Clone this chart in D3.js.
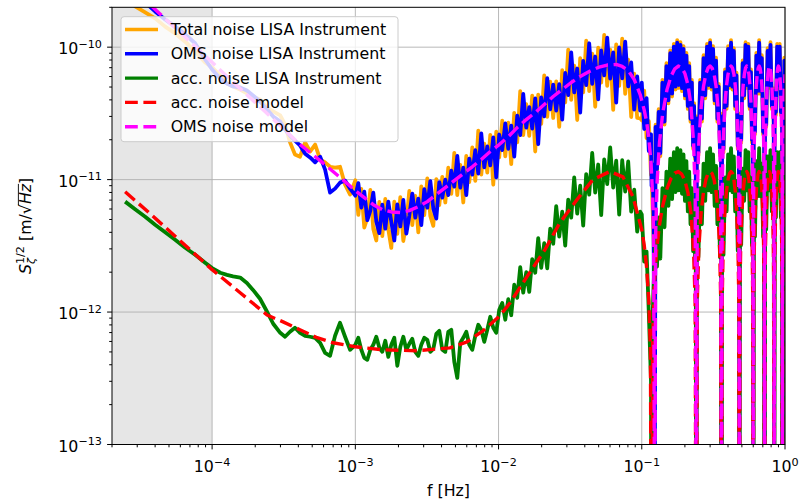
<!DOCTYPE html>
<html><head><meta charset="utf-8">
<script src="https://cdn.jsdelivr.net/npm/d3@7/dist/d3.min.js"></script>
<style>
body{margin:0;background:#fff}
svg{display:block}
text{font-family:"DejaVu Sans",sans-serif;fill:#000}
</style></head>
<body><svg id="chart" width="800" height="502"></svg>
<script>
// ---------------- data ----------------
const xDomain = [2e-5, 1];
const yDomain = [1e-13, 2e-10];
const shadedBand = [2e-5, 1e-4];
const xTickValues = [1e-4, 1e-3, 1e-2, 1e-1, 1];
const xTickExps = ["\u22124", "\u22123", "\u22122", "\u22121", "0"];
const yTickValues = [1e-13, 1e-12, 1e-11, 1e-10];
const yTickExps = ["\u221213", "\u221212", "\u221211", "\u221210"];
const legendLabels = ["Total noise LISA Instrument", "OMS noise LISA Instrument", "acc. noise LISA Instrument", "acc. noise model", "OMS noise model"];

// frequencies of the instrument (noisy) series
const noiseFreq = [
 2.47e-5,2.90e-5,3.41e-5,4.00e-5,4.70e-5,5.52e-5,6.49e-5,7.61e-5,8.94e-5,1.00e-4,
 1.14e-4,1.27e-4,1.40e-4,1.57e-4,1.75e-4,1.93e-4,2.16e-4,2.42e-4,2.67e-4,2.99e-4,
 3.23e-4,3.50e-4,3.79e-4,4.11e-4,4.46e-4,4.83e-4,5.24e-4,5.68e-4,6.15e-4,6.66e-4,
 7.22e-4,7.82e-4,8.48e-4,9.19e-4,
 1.000e-3,1.049e-3,1.101e-3,1.155e-3,1.213e-3,1.273e-3,1.335e-3,1.401e-3,1.471e-3,1.543e-3,
 1.619e-3,1.699e-3,1.783e-3,1.871e-3,1.964e-3,2.061e-3,2.163e-3,2.270e-3,2.382e-3,2.499e-3,
 2.623e-3,2.752e-3,2.888e-3,3.031e-3,3.181e-3,3.338e-3,3.503e-3,3.676e-3,3.857e-3,4.048e-3,
 4.248e-3,4.457e-3,4.678e-3,4.909e-3,5.151e-3,5.406e-3,5.673e-3,5.953e-3,6.247e-3,6.555e-3,
 6.879e-3,7.219e-3,7.576e-3,7.950e-3,8.342e-3,8.754e-3,9.187e-3,9.637e-3,1.011e-2,1.061e-2,
 1.114e-2,1.169e-2,1.226e-2,1.287e-2,1.350e-2,1.417e-2,1.487e-2,1.561e-2,1.638e-2,1.718e-2,
 1.803e-2,1.892e-2,1.986e-2,2.084e-2,2.187e-2,2.295e-2,2.408e-2,2.527e-2,2.652e-2,2.783e-2,
 2.921e-2,3.065e-2,3.216e-2,3.375e-2,3.542e-2,3.716e-2,3.900e-2,4.092e-2,4.295e-2,4.507e-2,
 4.730e-2,4.963e-2,5.209e-2,5.466e-2,5.736e-2,6.019e-2,6.317e-2,6.629e-2,6.956e-2,7.300e-2,
 7.661e-2,8.039e-2,8.436e-2,8.853e-2,9.288e-2,9.746e-2,
 0.100,0.104,0.108,0.112,0.116,0.117,0.119,0.121,0.123,
 0.1248,0.1277,0.1312,0.1347,0.1394,0.1441,0.1487,0.1534,0.1581,0.1628,0.1675,0.1721,0.1768,0.1815,
 0.1862,0.1909,0.1955,0.2002,0.2049,0.2096,0.2143,0.2189,0.2236,0.2283,0.2318,0.2353,0.2382,0.24,
 0.2424,0.2484,0.2556,0.2628,0.27,0.2772,0.2856,0.2928,0.30,0.3072,0.3144,0.3228,0.33,0.3372,0.3444,0.3516,0.3576,0.36,
 0.3636,0.372,0.3816,0.3912,0.4008,0.4104,0.42,0.4296,0.4392,0.4488,0.4584,0.468,0.4764,0.48,
 0.4836,0.4944,0.5064,0.5184,0.5304,0.5424,0.5544,0.5664,0.5784,0.588,0.5964,0.60,
 0.6048,0.6168,0.6312,0.6456,0.66,0.6744,0.6888,0.7032,0.7152,0.72,
 0.7248,0.7392,0.756,0.774,0.792,0.81,0.8256,0.8352,0.84,
 0.846,0.864,0.882,0.90,0.918,0.936,0.954,0.96,
 0.966,0.978,0.99,1.0
];

const totalNoise = [
 3.54e-10,2.03e-10,1.83e-10,1.65e-10,1.43e-10,1.27e-10,1.10e-10,9.27e-11,7.66e-11,7.03e-11,
 6.11e-11,5.32e-11,5.05e-11,4.79e-11,4.47e-11,4.24e-11,4.03e-11,3.50e-11,3.27e-11,3.05e-11,
 2.61e-11,1.91e-11,1.55e-11,1.49e-11,1.91e-11,1.63e-11,1.84e-11,1.42e-11,1.35e-11,1.25e-11,
 1.23e-11,1.25e-11,9.16e-12,7.71e-12,
 9.88e-12,5.41e-12,8.52e-12,4.35e-12,5.13e-12,8.37e-12,4.24e-12,3.47e-12,6.79e-12,3.75e-12,
 7.16e-12,4.22e-12,3.05e-12,6.81e-12,3.90e-12,7.37e-12,3.44e-12,4.71e-12,8.23e-12,4.54e-12,
 7.54e-12,3.99e-12,8.89e-12,5.40e-12,1.02e-11,5.32e-12,4.47e-12,1.01e-11,6.43e-12,
 1.05e-11,6.72e-12,1.23e-11,7.80e-12,1.59e-11,7.65e-12,1.29e-11,6.72e-12,1.51e-11,9.59e-12,
 1.75e-11,9.77e-12,2.34e-11,1.09e-11,1.87e-11,1.13e-11,2.18e-11,9.15e-12,2.30e-11,1.47e-11,
 2.79e-11,1.50e-11,2.69e-11,1.31e-11,3.19e-11,1.91e-11,4.65e-11,2.17e-11,3.71e-11,2.14e-11,
 4.31e-11,1.63e-11,4.38e-11,2.64e-11,6.13e-11,2.98e-11,5.48e-11,2.92e-11,5.52e-11,2.50e-11,
 6.70e-11,3.83e-11,9.58e-11,4.00e-11,7.25e-11,2.82e-11,8.26e-11,4.56e-11,1.12e-10,4.65e-11,
 8.93e-11,3.55e-11,9.92e-11,5.39e-11,1.24e-10,5.10e-11,9.58e-11,3.36e-11,1.05e-10,5.11e-11,
 1.16e-10,4.44e-11,8.04e-11,2.97e-11,6.31e-11,2.92e-11,2.9e-11,
 2.8e-11,4.69e-11,2.06e-11,2.77e-11,1.08e-11,1.15e-11,6.1e-12,3.5e-12,1.5e-12,
 2.6e-11,1.14e-11,3.4e-11,1.5e-11,5.67e-11,2.6e-11,7.56e-11,3.76e-11,9.45e-11,4.24e-11,1.06e-10,4.79e-11,1.13e-10,4.92e-11,
 1.09e-10,4.66e-11,1.02e-10,4.1e-11,9.07e-11,3.42e-11,7.56e-11,2.74e-11,5.67e-11,1.71e-11,3.78e-11,1.43e-11,2.6e-11,1e-14,
 3.0e-11,1.52e-11,5.67e-11,2.74e-11,8.69e-11,4.1e-11,1.06e-10,4.92e-11,1.13e-10,4.79e-11,1.02e-10,3.76e-11,8.32e-11,2.74e-11,5.29e-11,1.52e-11,3.0e-11,1e-14,
 3.15e-11,1.6e-11,6.8e-11,3.42e-11,1.02e-10,4.92e-11,1.13e-10,4.79e-11,9.83e-11,3.42e-11,6.43e-11,1.7e-11,3.15e-11,1e-14,
 3.15e-11,1.9e-11,7.94e-11,4.1e-11,1.09e-10,4.92e-11,1.06e-10,3.42e-11,6.8e-11,1.9e-11,3.15e-11,1e-14,
 3.35e-11,2.2e-11,9.07e-11,4.45e-11,1.13e-10,4.45e-11,8.69e-11,2.2e-11,3.35e-11,1e-14,
 3.35e-11,2.5e-11,9.83e-11,4.92e-11,1.09e-10,3.42e-11,4.91e-11,2.5e-11,1e-14,
 3.55e-11,3.08e-11,1.06e-10,4.92e-11,1.06e-10,3.08e-11,3.55e-11,1e-14,
 3.55e-11,2.4e-11,8.32e-11,4.24e-11
];

const omsNoise = [
 3.25e-10,2.64e-10,2.18e-10,1.86e-10,1.62e-10,1.43e-10,1.25e-10,1.07e-10,8.07e-11,6.78e-11,
 5.80e-11,5.32e-11,5.05e-11,4.96e-11,4.71e-11,4.32e-11,3.89e-11,3.38e-11,2.99e-11,2.74e-11,
 2.39e-11,2.15e-11,1.97e-11,1.81e-11,1.57e-11,1.47e-11,1.35e-11,1.49e-11,1.19e-11,7.98e-12,
 8.55e-12,9.49e-12,9.83e-12,8.55e-12,
 7.57e-12,9.41e-12,6.15e-12,8.11e-12,4.94e-12,5.83e-12,7.97e-12,4.82e-12,3.94e-12,6.47e-12,
 4.26e-12,6.82e-12,4.79e-12,3.47e-12,6.49e-12,4.43e-12,7.02e-12,3.91e-12,5.35e-12,7.84e-12,
 5.16e-12,7.18e-12,4.53e-12,8.47e-12,6.14e-12,9.75e-12,6.04e-12,5.08e-12,9.58e-12,7.31e-12,
 1.00e-11,7.64e-12,1.17e-11,8.86e-12,1.51e-11,8.69e-12,1.23e-11,7.64e-12,1.44e-11,1.09e-11,
 1.67e-11,1.11e-11,2.23e-11,1.24e-11,1.78e-11,1.28e-11,2.08e-11,1.04e-11,2.19e-11,1.67e-11,
 2.66e-11,1.71e-11,2.56e-11,1.49e-11,3.04e-11,2.17e-11,4.43e-11,2.47e-11,3.53e-11,2.43e-11,
 4.10e-11,1.85e-11,4.17e-11,3.00e-11,5.84e-11,3.39e-11,5.22e-11,3.32e-11,5.26e-11,2.84e-11,
 6.38e-11,4.35e-11,9.12e-11,4.55e-11,6.90e-11,3.21e-11,7.87e-11,5.18e-11,1.07e-10,5.28e-11,
 8.50e-11,4.03e-11,9.45e-11,6.12e-11,1.18e-10,5.80e-11,9.12e-11,3.82e-11,9.96e-11,5.81e-11,
 1.10e-10,5.05e-11,7.66e-11,3.38e-11,6.01e-11,3.32e-11,
 5.4e-11,2.41e-11,4.13e-11,1.64e-11,2.2e-11,9.0e-12,1.3e-11,5.0e-12,1e-14,
 2.5e-11,1.2e-11,3.24e-11,1.58e-11,5.4e-11,2.74e-11,7.2e-11,3.96e-11,9.0e-11,4.46e-11,1.01e-10,5.04e-11,1.08e-10,5.18e-11,
 1.04e-10,4.9e-11,9.72e-11,4.32e-11,8.64e-11,3.6e-11,7.2e-11,2.88e-11,5.4e-11,1.8e-11,3.6e-11,1.5e-11,2.5e-11,1e-14,
 2.9e-11,1.6e-11,5.4e-11,2.88e-11,8.28e-11,4.32e-11,1.01e-10,5.18e-11,1.08e-10,5.04e-11,9.72e-11,3.96e-11,7.92e-11,2.88e-11,5.04e-11,1.6e-11,2.9e-11,1e-14,
 3.0e-11,1.7e-11,6.48e-11,3.6e-11,9.72e-11,5.18e-11,1.08e-10,5.04e-11,9.36e-11,3.6e-11,6.12e-11,1.8e-11,3.0e-11,1e-14,
 3.0e-11,2.0e-11,7.56e-11,4.32e-11,1.04e-10,5.18e-11,1.01e-10,3.6e-11,6.48e-11,2.0e-11,3.0e-11,1e-14,
 3.2e-11,2.3e-11,8.64e-11,4.68e-11,1.08e-10,4.68e-11,8.28e-11,2.3e-11,3.2e-11,1e-14,
 3.2e-11,2.6e-11,9.36e-11,5.18e-11,1.04e-10,3.6e-11,4.68e-11,2.6e-11,1e-14,
 3.4e-11,3.24e-11,1.01e-10,5.18e-11,1.01e-10,3.24e-11,3.4e-11,1e-14,
 3.4e-11,2.5e-11,7.92e-11,4.46e-11
];

const accNoise = [
 6.82e-12,5.97e-12,5.25e-12,4.57e-12,4.01e-12,3.52e-12,3.06e-12,2.71e-12,2.36e-12,2.15e-12,
 1.98e-12,1.91e-12,1.86e-12,1.82e-12,1.66e-12,1.47e-12,1.26e-12,1.005e-12,8.16e-13,6.97e-13,
 6.51e-13,7.10e-13,7.61e-13,6.97e-13,6.62e-13,6.51e-13,6.39e-13,5.86e-13,4.92e-13,4.67e-13,
 6.62e-13,8.30e-13,6.51e-13,5.19e-13,
 5.66e-13,6.39e-13,5.19e-13,4.51e-13,4.36e-13,5.19e-13,5.66e-13,6.51e-13,5.37e-13,5.01e-13,
 6.07e-13,4.59e-13,5.66e-13,6.39e-13,3.93e-13,5.47e-13,6.51e-13,5.19e-13,5.76e-13,6.28e-13,
 5.01e-13,4.67e-13,5.66e-13,6.39e-13,6.17e-13,5.01e-13,5.28e-13,6.85e-13,7.22e-13,5.19e-13,
 5.01e-13,7.10e-13,7.35e-13,4.21e-13,3.19e-13,5.86e-13,6.39e-13,7.10e-13,5.66e-13,5.19e-13,
 6.62e-13,8.02e-13,7.35e-13,5.96e-13,7.35e-13,9.21e-13,7.61e-13,6.97e-13,1.04e-12,
 1.17e-12,8.75e-13,1.25e-12,9.46e-13,1.61e-12,1.28e-12,2.18e-12,1.40e-12,2.00e-12,1.42e-12,
 2.51e-12,1.98e-12,3.61e-12,2.16e-12,3.31e-12,2.14e-12,4.26e-12,3.28e-12,6.30e-12,3.71e-12,
 5.73e-12,3.17e-12,7.06e-12,5.16e-12,1.04e-11,5.53e-12,9.01e-12,4.49e-12,1.10e-11,7.70e-12,
 1.59e-11,7.97e-12,1.30e-11,5.39e-12,1.42e-11,9.25e-12,1.75e-11,8.70e-12,1.39e-11,5.44e-12,
 1.40e-11,8.11e-12,1.37e-11,5.73e-12,8.40e-12,4.05e-12,5.73e-12,
 5.45e-12,2.4e-12,2.86e-12,9.8e-13,3.0e-13,1e-15,9.0e-13,1.6e-12,2.6e-12,
 4.0e-12,2.2e-12,5.18e-12,2.53e-12,8.63e-12,4.37e-12,1.15e-11,6.33e-12,1.44e-11,7.13e-12,1.61e-11,8.05e-12,1.73e-11,8.28e-12,
 1.67e-11,7.82e-12,1.55e-11,6.9e-12,1.38e-11,5.75e-12,1.15e-11,4.6e-12,8.63e-12,2.88e-12,5.8e-12,2.4e-12,4.0e-12,1e-15,
 4.6e-12,2.6e-12,8.63e-12,4.6e-12,1.32e-11,6.9e-12,1.61e-11,8.28e-12,1.73e-11,8.05e-12,1.55e-11,6.33e-12,1.27e-11,4.6e-12,8.05e-12,2.6e-12,4.6e-12,1e-15,
 4.8e-12,2.7e-12,1.04e-11,5.75e-12,1.55e-11,8.28e-12,1.73e-11,8.05e-12,1.5e-11,5.75e-12,9.78e-12,2.9e-12,4.8e-12,1e-15,
 4.8e-12,3.2e-12,1.21e-11,6.9e-12,1.67e-11,8.28e-12,1.61e-11,5.75e-12,1.04e-11,3.2e-12,4.8e-12,1e-15,
 5.1e-12,3.7e-12,1.38e-11,7.48e-12,1.73e-11,7.48e-12,1.32e-11,3.7e-12,5.1e-12,1e-15,
 5.1e-12,4.2e-12,1.5e-11,8.28e-12,1.67e-11,5.75e-12,7.48e-12,4.2e-12,1e-15,
 5.4e-12,5.18e-12,1.61e-11,8.28e-12,1.61e-11,5.18e-12,5.4e-12,1e-15,
 5.4e-12,4.0e-12,1.27e-11,7.13e-12
];

// acceleration noise model (red dashed)
const accModelFreq = [
 2.47e-5,3.69e-5,5.98e-5,1.0e-4,1.57e-4,2.42e-4,3.13e-4,4.1e-4,5.41e-4,6.98e-4,
 1.0e-3,1.56e-3,2.70e-3,4.58e-3,6.02e-3,7.79e-3,1.02e-2,1.20e-2,1.58e-2,2.11e-2,
 2.68e-2,3.53e-2,4.56e-2,5.98e-2,7.38e-2,8.67e-2,0.1,0.104,0.108,0.112,
 0.115,0.117,0.119,0.122,0.125,0.128,0.133,0.14,0.15,0.16,
 0.17,0.18,0.19,0.20,0.21,0.22,0.23,0.236,0.24,
 0.244,0.25,0.26,0.27,0.28,0.29,0.30,0.31,0.32,0.33,0.34,0.35,0.356,0.36,
 0.364,0.37,0.38,0.39,0.40,0.41,0.42,0.43,0.44,0.45,0.46,0.47,0.476,0.48,
 0.484,0.49,0.50,0.51,0.52,0.53,0.54,0.55,0.56,0.57,0.58,0.59,0.596,0.60,
 0.604,0.61,0.62,0.63,0.64,0.65,0.66,0.67,0.68,0.69,0.70,0.71,0.716,0.72,
 0.724,0.73,0.74,0.75,0.76,0.77,0.78,0.79,0.80,0.81,0.82,0.83,0.836,0.84,
 0.844,0.85,0.86,0.87,0.88,0.89,0.90,0.91,0.92,0.93,0.94,0.95,0.956,0.96,
 0.964,0.97,0.98,0.99,1.0
];
const accModel = [
 8.1e-12,5.53e-12,3.46e-12,2.09e-12,1.40e-12,9.5e-13,8.43e-13,7.35e-13,6.4e-13,5.86e-13,
 5.47e-13,5.19e-13,5.1e-13,5.37e-13,5.96e-13,7.22e-13,9.37e-13,1.17e-12,1.85e-12,2.96e-12,
 4.73e-12,7.06e-12,1.0e-11,1.15e-11,1.05e-11,7.45e-12,4.19e-12,3.2e-12,2.2e-12,1.22e-12,
 5e-13,1e-15,5.9e-13,1.46e-12,2.33e-12,3.19e-12,4.57e-12,6.35e-12,8.54e-12,1.02e-11,
 1.12e-11,1.15e-11,1.10e-11,9.81e-12,7.99e-12,5.70e-12,2.90e-12,1.19e-12,1e-15,
 1.2e-12,2.98e-12,5.76e-12,8.14e-12,9.98e-12,1.11e-11,1.15e-11,1.11e-11,9.98e-12,8.14e-12,5.76e-12,2.98e-12,1.2e-12,1e-15,
 1.2e-12,2.98e-12,5.76e-12,8.14e-12,9.98e-12,1.11e-11,1.15e-11,1.11e-11,9.98e-12,8.14e-12,5.76e-12,2.98e-12,1.2e-12,1e-15,
 1.2e-12,2.98e-12,5.76e-12,8.14e-12,9.98e-12,1.11e-11,1.15e-11,1.11e-11,9.98e-12,8.14e-12,5.76e-12,2.98e-12,1.2e-12,1e-15,
 1.2e-12,2.98e-12,5.76e-12,8.14e-12,9.98e-12,1.11e-11,1.15e-11,1.11e-11,9.98e-12,8.14e-12,5.76e-12,2.98e-12,1.2e-12,1e-15,
 1.2e-12,2.98e-12,5.76e-12,8.14e-12,9.98e-12,1.11e-11,1.15e-11,1.11e-11,9.98e-12,8.14e-12,5.76e-12,2.98e-12,1.2e-12,1e-15,
 1.2e-12,2.98e-12,5.76e-12,8.14e-12,9.98e-12,1.11e-11,1.15e-11,1.11e-11,9.98e-12,8.14e-12,5.76e-12,2.98e-12,1.2e-12,1e-15,
 1.2e-12,2.98e-12,5.76e-12,8.14e-12,9.98e-12
];

// OMS noise model (magenta dashed)
const omsModelFreq = [
 2.47e-5,3.41e-5,4.70e-5,6.49e-5,8.94e-5,1.23e-4,1.70e-4,2.34e-4,3.23e-4,4.11e-4,
 5.68e-4,7.82e-4,1.0e-3,1.155e-3,1.335e-3,1.543e-3,1.783e-3,2.061e-3,2.382e-3,2.752e-3,
 3.181e-3,3.676e-3,4.248e-3,4.909e-3,5.673e-3,6.555e-3,7.576e-3,8.754e-3,1.011e-2,1.169e-2,
 1.350e-2,1.561e-2,1.803e-2,2.084e-2,2.408e-2,2.783e-2,3.216e-2,3.716e-2,4.295e-2,4.963e-2,
 5.736e-2,6.629e-2,7.300e-2,8.039e-2,8.853e-2,9.746e-2,0.104,0.108,0.112,0.116,
 0.119,0.121,0.123,0.125,0.128,0.133,0.14,0.15,0.16,0.17,
 0.18,0.19,0.20,0.21,0.22,0.23,0.236,0.24,
 0.244,0.25,0.26,0.27,0.28,0.29,0.30,0.31,0.32,0.33,0.34,0.35,0.356,0.36,
 0.364,0.37,0.38,0.39,0.40,0.41,0.42,0.43,0.44,0.45,0.46,0.47,0.476,0.48,
 0.484,0.49,0.50,0.51,0.52,0.53,0.54,0.55,0.56,0.57,0.58,0.59,0.596,0.60,
 0.604,0.61,0.62,0.63,0.64,0.65,0.66,0.67,0.68,0.69,0.70,0.71,0.716,0.72,
 0.724,0.73,0.74,0.75,0.76,0.77,0.78,0.79,0.80,0.81,0.82,0.83,0.836,0.84,
 0.844,0.85,0.86,0.87,0.88,0.89,0.90,0.91,0.92,0.93,0.94,0.95,0.956,0.96,
 0.964,0.97,0.98,0.99,1.0
];
const omsModel = [
 3.14e-10,2.27e-10,1.64e-10,1.19e-10,8.6e-11,6.22e-11,4.50e-11,3.27e-11,2.36e-11,1.84e-11,
 1.39e-11,1.04e-11,8.26e-12,7.31e-12,6.47e-12,5.93e-12,5.70e-12,5.65e-12,5.83e-12,6.25e-12,
 6.82e-12,7.71e-12,8.70e-12,9.83e-12,1.11e-11,1.25e-11,1.42e-11,1.63e-11,1.84e-11,2.11e-11,
 2.47e-11,2.84e-11,3.21e-11,3.69e-11,4.24e-11,4.79e-11,5.41e-11,6.01e-11,6.55e-11,7.03e-11,
 7.33e-11,7.40e-11,7.15e-11,6.67e-11,5.70e-11,4.39e-11,3.35e-11,2.75e-11,2.05e-11,1.35e-11,
 7.6e-12,3.8e-12,1e-14,3.9e-12,9.7e-12,1.92e-11,3.17e-11,4.78e-11,6.03e-11,6.86e-11,
 7.2e-11,7.01e-11,6.33e-11,5.21e-11,3.71e-11,1.91e-11,7.7e-12,1e-14,
 7.5e-12,1.86e-11,3.6e-11,5.09e-11,6.24e-11,6.95e-11,7.2e-11,6.95e-11,6.24e-11,5.09e-11,3.6e-11,1.86e-11,7.5e-12,1e-14,
 7.5e-12,1.86e-11,3.6e-11,5.09e-11,6.24e-11,6.95e-11,7.2e-11,6.95e-11,6.24e-11,5.09e-11,3.6e-11,1.86e-11,7.5e-12,1e-14,
 7.5e-12,1.86e-11,3.6e-11,5.09e-11,6.24e-11,6.95e-11,7.2e-11,6.95e-11,6.24e-11,5.09e-11,3.6e-11,1.86e-11,7.5e-12,1e-14,
 7.5e-12,1.86e-11,3.6e-11,5.09e-11,6.24e-11,6.95e-11,7.2e-11,6.95e-11,6.24e-11,5.09e-11,3.6e-11,1.86e-11,7.5e-12,1e-14,
 7.5e-12,1.86e-11,3.6e-11,5.09e-11,6.24e-11,6.95e-11,7.2e-11,6.95e-11,6.24e-11,5.09e-11,3.6e-11,1.86e-11,7.5e-12,1e-14,
 7.5e-12,1.86e-11,3.6e-11,5.09e-11,6.24e-11,6.95e-11,7.2e-11,6.95e-11,6.24e-11,5.09e-11,3.6e-11,1.86e-11,7.5e-12,1e-14,
 7.5e-12,1.86e-11,3.6e-11,5.09e-11,6.24e-11
];

// ---------------- drawing ----------------
const svg = d3.select("#chart");
const L = 112, R = 785, T = 7.3, B = 444.5;
const x = d3.scaleLog().domain(xDomain).range([L, R]);
const y = d3.scaleLog().domain(yDomain).range([B, T]);

svg.append("rect").attr("width", 800).attr("height", 502).attr("fill", "#fff");

svg.append("defs").append("clipPath").attr("id", "clip")
  .append("rect").attr("x", L).attr("y", T).attr("width", R - L).attr("height", B - T);

// shaded band
svg.append("rect").attr("x", x(shadedBand[0])).attr("y", T)
  .attr("width", x(shadedBand[1]) - x(shadedBand[0])).attr("height", B - T)
  .attr("fill", "#808080").attr("fill-opacity", 0.2);

// grid
const grid = svg.append("g").attr("stroke", "#b0b0b0").attr("stroke-width", 0.9);
xTickValues.forEach(v => grid.append("line").attr("x1", x(v)).attr("x2", x(v)).attr("y1", T).attr("y2", B));
yTickValues.forEach(v => grid.append("line").attr("y1", y(v)).attr("y2", y(v)).attr("x1", L).attr("x2", R));

// data lines
const plot = svg.append("g").attr("clip-path", "url(#clip)");
const lineGen = d3.line().x(d => x(d[0])).y(d => y(d[1]));
const seriesList = [
  {f: noiseFreq, v: totalNoise, color: "orange", dash: null, w: 3.8},
  {f: noiseFreq, v: omsNoise, color: "blue", dash: null, w: 3.8},
  {f: noiseFreq, v: accNoise, color: "green", dash: null, w: 3.8},
  {f: accModelFreq, v: accModel, color: "red", dash: "12.8,5.6", w: 3.4},
  {f: omsModelFreq, v: omsModel, color: "magenta", dash: "12.8,5.6", w: 3.4}
];
seriesList.forEach(s => {
  const n = Math.min(s.f.length, s.v.length);
  const data = d3.range(n).map(i => [s.f[i], s.v[i]]);
  plot.append("path").datum(data).attr("d", lineGen)
    .attr("fill", "none").attr("stroke", s.color).attr("stroke-width", s.w)
    .attr("stroke-linejoin", "round")
    .attr("stroke-dasharray", s.dash);
});

// ticks
const tk = svg.append("g").attr("stroke", "#000").attr("stroke-width", 1);
const isDecade = v => Math.abs(Math.log10(v) - Math.round(Math.log10(v))) < 1e-6;
x.ticks().filter(v => !isDecade(v)).forEach(v => tk.append("line").attr("x1", x(v)).attr("x2", x(v)).attr("y1", B).attr("y2", B + 2.8));
xTickValues.forEach(v => tk.append("line").attr("x1", x(v)).attr("x2", x(v)).attr("y1", B).attr("y2", B + 4.9));
y.ticks().filter(v => !isDecade(v)).forEach(v => tk.append("line").attr("y1", y(v)).attr("y2", y(v)).attr("x1", L).attr("x2", L - 2.8));
yTickValues.forEach(v => tk.append("line").attr("y1", y(v)).attr("y2", y(v)).attr("x1", L).attr("x2", L - 4.9));

// frame
svg.append("rect").attr("x", L).attr("y", T).attr("width", R - L).attr("height", B - T)
  .attr("fill", "none").attr("stroke", "#000").attr("stroke-width", 1);

// tick labels
const FS = 15.8, SFS = 11.2;
xTickValues.forEach((v, i) => {
  const t = svg.append("text").attr("x", x(v)).attr("y", 472).attr("text-anchor", "middle").style("font-size", FS + "px");
  t.append("tspan").text("10");
  t.append("tspan").attr("dy", -6.5).style("font-size", SFS + "px").text(xTickExps[i]);
});
yTickValues.forEach((v, i) => {
  const t = svg.append("text").attr("x", 102).attr("y", y(v) + 7.3).attr("text-anchor", "end").style("font-size", FS + "px");
  t.append("tspan").text("10");
  t.append("tspan").attr("dy", -6.5).style("font-size", SFS + "px").text(yTickExps[i]);
});

// axis labels
svg.append("text").attr("x", (L + R) / 2).attr("y", 496).attr("text-anchor", "middle")
  .style("font-size", FS + "px").text("f [Hz]");

const yl = svg.append("g").attr("transform", "translate(31," + ((T + B) / 2) + ") rotate(-90)");
const ylt = yl.append("text").attr("x", 0).attr("y", 0).attr("text-anchor", "middle").style("font-size", FS + "px");
ylt.append("tspan").style("font-style", "italic").text("S");
const sup = ylt.append("tspan").attr("dy", -7).style("font-size", SFS + "px").text("1/2");
const sub = ylt.append("tspan").style("font-size", SFS + "px").style("font-style", "italic").text("\u03b6");
const rest = ylt.append("tspan").text(" [m/");
ylt.append("tspan").text("\u221a");
ylt.append("tspan").style("font-style", "italic").text("Hz");
ylt.append("tspan").text("]");
const wSup = sup.node().getComputedTextLength();
const wSub = sub.node().getComputedTextLength();
sub.attr("dx", -wSup).attr("dy", 11);
rest.attr("dx", Math.max(0, wSup - wSub)).attr("dy", -4);
const tn = ylt.node();
const rootIdx = 9;
const x0 = tn.getEndPositionOfChar(rootIdx).x - 1;
const x1 = tn.getEndPositionOfChar(rootIdx + 2).x;
yl.append("line").attr("x1", x0).attr("x2", x1).attr("y1", -12.6).attr("y2", -12.6)
  .attr("stroke", "#000").attr("stroke-width", 0.9);

// legend
const lg = svg.append("g");
lg.append("rect").attr("x", 121).attr("y", 16.7).attr("width", 277).attr("height", 125).attr("rx", 3)
  .attr("fill", "#fff").attr("fill-opacity", 0.8).attr("stroke", "#cccccc").attr("stroke-width", 1);
seriesList.forEach((s, i) => {
  const cy = 29.5 + i * 24.3;
  lg.append("line").attr("x1", 125).attr("x2", 158).attr("y1", cy).attr("y2", cy)
    .attr("stroke", s.color).attr("stroke-width", 3.4).attr("stroke-dasharray", s.dash);
  lg.append("text").attr("x", 170.7).attr("y", cy + 5.6).style("font-size", FS + "px").text(legendLabels[i]);
});
</script>
</body></html>
